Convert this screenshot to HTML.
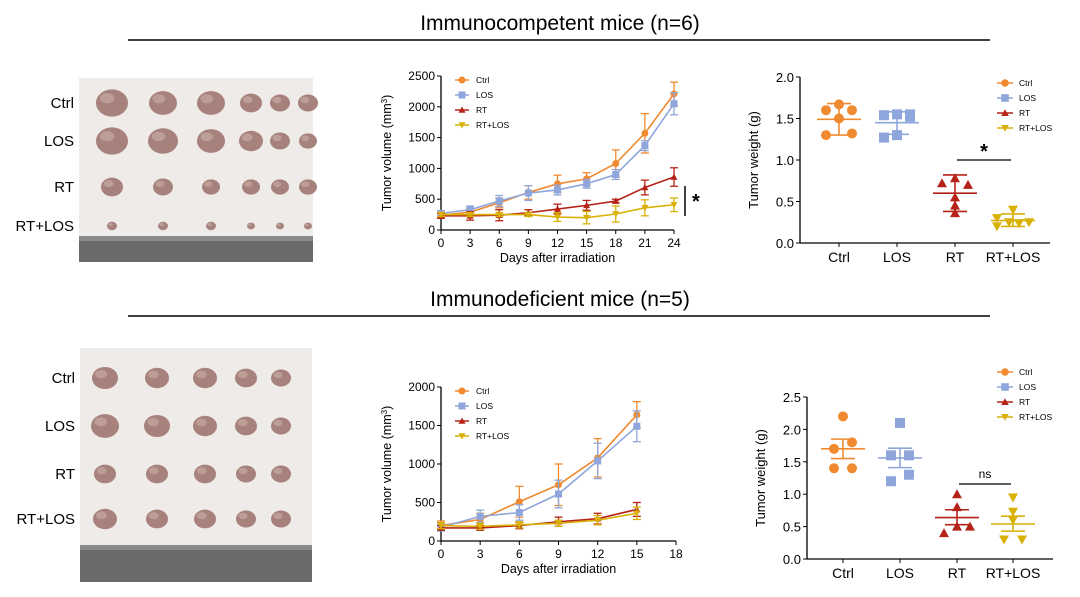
<!DOCTYPE html><html><head><style>body{margin:0;background:#fff}svg{display:block;font-family:"Liberation Sans",sans-serif}</style></head><body>
<svg id="s" width="1080" height="597" viewBox="0 0 1080 597" xmlns="http://www.w3.org/2000/svg">
<text x="560" y="30" font-size="21" text-anchor="middle">Immunocompetent mice (n=6)</text>
<line x1="128" y1="40" x2="990" y2="40" stroke="#000" stroke-width="1.5"/>
<text x="560" y="306" font-size="21" text-anchor="middle">Immunodeficient mice (n=5)</text>
<line x1="128" y1="316" x2="990" y2="316" stroke="#000" stroke-width="1.5"/>
</svg>
<script>
const S=document.getElementById('s');let h='';
const C={o:'#f08a30',b:'#8fa6dc',r:'#b52318',y:'#d9b106'};
function mk(t,x,y,c,sz){sz=sz||4;
 if(t=='o')return `<circle cx="${x}" cy="${y}" r="${sz}" fill="${c}"/>`;
 if(t=='b')return `<rect x="${x-sz}" y="${y-sz}" width="${2*sz}" height="${2*sz}" fill="${c}"/>`;
 if(t=='r')return `<polygon points="${x},${y-sz} ${x-sz},${y+sz*0.8} ${x+sz},${y+sz*0.8}" fill="${c}"/>`;
 return `<polygon points="${x},${y+sz} ${x-sz},${y-sz*0.8} ${x+sz},${y-sz*0.8}" fill="${c}"/>`;}
function photo(x,y,w,h2,rowsY,labels,cols,sizes,rulerY){
 h+=`<rect x="${x}" y="${y}" width="${w}" height="${h2}" fill="#eeebe9"/>`;
 rowsY.forEach((ry,i)=>{h+=`<text x="${x-5}" y="${ry+5}" font-size="15" text-anchor="end">${labels[i]}</text>`;
  cols.forEach((cx,j)=>{const r=sizes[i][j];h+=`<ellipse cx="${cx}" cy="${ry}" rx="${r}" ry="${r*0.85}" fill="#a7817c"/><ellipse cx="${cx-r*0.3}" cy="${ry-r*0.3}" rx="${r*0.45}" ry="${r*0.32}" fill="#bc9e97"/>`;});});
 h+=`<rect x="${x}" y="${rulerY}" width="${w}" height="${y+h2-rulerY}" fill="#6a6a6a"/><rect x="${x}" y="${rulerY}" width="${w}" height="5" fill="#8a8a8a"/>`;
}
photo(79,78,234,184,[103,141,187,226],['Ctrl','LOS','RT','RT+LOS'],[112,163,211,251,280,308],[[16,14,14,11,10,10],[16,15,14,12,10,9],[11,10,9,9,9,9],[5,5,5,4,4,4]],236);
photo(80,348,232,234,[378,426,474,519],['Ctrl','LOS','RT','RT+LOS'],[105,157,205,246,281],[[13,12,12,11,10],[14,13,12,11,10],[11,11,11,10,10],[12,11,11,10,10]],545);
function line(x0,x1,xmax,xstep,y0,y1,ymax,ystep,data,leg,star){
 const X=v=>x0+(x1-x0)*v/xmax,Y=v=>y0-(y0-y1)*v/ymax;
 h+=`<line x1="${x0}" y1="${y1}" x2="${x0}" y2="${y0}" stroke="#000" stroke-width="1.3"/><line x1="${x0}" y1="${y0}" x2="${x1}" y2="${y0}" stroke="#000" stroke-width="1.3"/>`;
 for(let v=0;v<=ymax;v+=ystep){h+=`<line x1="${x0-4}" y1="${Y(v)}" x2="${x0}" y2="${Y(v)}" stroke="#000"/><text x="${x0-6}" y="${Y(v)+4}" font-size="12" text-anchor="end">${v}</text>`;}
 for(let v=0;v<=xmax;v+=xstep){h+=`<line x1="${X(v)}" y1="${y0}" x2="${X(v)}" y2="${y0+4}" stroke="#000"/><text x="${X(v)}" y="${y0+17}" font-size="12" text-anchor="middle">${v}</text>`;}
 h+=`<text x="${(x0+x1)/2}" y="${y0+32}" font-size="12.5" text-anchor="middle">Days after irradiation</text>`;
 h+=`<text transform="translate(${x0-50},${(y0+y1)/2}) rotate(-90)" font-size="12.5" text-anchor="middle">Tumor volume (mm<tspan dy="-4" font-size="8">3</tspan><tspan dy="4">)</tspan></text>`;
 data.forEach(d=>{const c=C[d.t];let p=d.v.map((v,i)=>`${X(i*3)},${Y(v)}`).join(' ');
  h+=`<polyline points="${p}" fill="none" stroke="${c}" stroke-width="1.6"/>`;
  d.v.forEach((v,i)=>{const e=d.e[i],x=X(i*3);h+=`<line x1="${x}" y1="${Y(v+e)}" x2="${x}" y2="${Y(v-e)}" stroke="${c}" stroke-width="1.3"/><line x1="${x-4}" y1="${Y(v+e)}" x2="${x+4}" y2="${Y(v+e)}" stroke="${c}" stroke-width="1.3"/><line x1="${x-4}" y1="${Y(v-e)}" x2="${x+4}" y2="${Y(v-e)}" stroke="${c}" stroke-width="1.3"/>`+mk(d.t,x,Y(v),c,3.5);});});
 ['Ctrl','LOS','RT','RT+LOS'].forEach((n,i)=>{const t='obry'[i],c=C[t],yy=leg[1]+i*15;h+=`<line x1="${leg[0]-7}" y1="${yy}" x2="${leg[0]+7}" y2="${yy}" stroke="${c}" stroke-width="1.5"/>`+mk(t,leg[0],yy,c,3.5)+`<text x="${leg[0]+14}" y="${yy+3}" font-size="8.5">${n}</text>`;});
 if(star){h+=`<line x1="685" y1="186" x2="685" y2="216" stroke="#000" stroke-width="1.5"/><text x="692" y="208" font-size="20" font-weight="bold">*</text>`;}
}
line(441,674,24,3,230,76,2500,500,[
 {t:'o',v:[240,290,440,610,750,830,1080,1570,2210],e:[40,60,80,110,140,100,220,320,190]},
 {t:'b',v:[270,330,470,600,650,750,900,1370,2050],e:[40,60,90,120,80,70,80,80,180]},
 {t:'r',v:[230,230,240,280,340,400,470,690,860],e:[40,70,90,50,80,80,30,120,150]},
 {t:'y',v:[250,250,250,250,210,200,260,360,410],e:[30,30,30,30,70,100,130,130,110]}],[462,80],true);
line(441,676,18,3,541,387,2000,500,[
 {t:'o',v:[200,280,510,730,1080,1640],e:[60,80,200,270,250,170]},
 {t:'b',v:[180,320,370,610,1040,1490],e:[50,80,100,180,230,200]},
 {t:'r',v:[170,170,200,250,290,410],e:[30,30,40,60,70,90]},
 {t:'y',v:[200,190,210,230,270,360],e:[40,40,40,40,60,80]}],[462,391],false);
function sc(x0,x1,y0,y1,ymax,cats,pts,means,leg,legStart,sig){
 const Y=v=>y0-(y0-y1)*v/ymax;
 h+=`<line x1="${x0}" y1="${y1}" x2="${x0}" y2="${y0}" stroke="#000" stroke-width="1.3"/><line x1="${x0}" y1="${y0}" x2="${x1}" y2="${y0}" stroke="#000" stroke-width="1.3"/>`;
 for(let v=0;v<=ymax+1e-6;v+=0.5){h+=`<line x1="${x0-4}" y1="${Y(v)}" x2="${x0}" y2="${Y(v)}" stroke="#000"/><text x="${x0-6}" y="${Y(v)+5}" font-size="13" text-anchor="end">${v.toFixed(1)}</text>`;}
 h+=`<text transform="translate(${x0-42},${(y0+y1)/2}) rotate(-90)" font-size="13" text-anchor="middle">Tumor weight (g)</text>`;
 ['Ctrl','LOS','RT','RT+LOS'].forEach((n,i)=>{const t='obry'[i],c=C[t],cx=cats[i];
  h+=`<line x1="${cx}" y1="${y0}" x2="${cx}" y2="${y0+4}" stroke="#000"/><text x="${cx}" y="${y0+19}" font-size="14" text-anchor="middle">${n}</text>`;
  pts[i].forEach(p=>h+=mk(t,cx+p[0],Y(p[1]),c,5));
  const [m,lo,hi]=means[i];
  h+=`<line x1="${cx-22}" y1="${Y(m)}" x2="${cx+22}" y2="${Y(m)}" stroke="${c}" stroke-width="1.6"/><line x1="${cx}" y1="${Y(hi)}" x2="${cx}" y2="${Y(lo)}" stroke="${c}" stroke-width="1.6"/><line x1="${cx-12}" y1="${Y(hi)}" x2="${cx+12}" y2="${Y(hi)}" stroke="${c}" stroke-width="1.6"/><line x1="${cx-12}" y1="${Y(lo)}" x2="${cx+12}" y2="${Y(lo)}" stroke="${c}" stroke-width="1.6"/>`;
  if(i>=legStart){const yy=leg[1]+(i-legStart)*15;h+=`<line x1="${leg[0]-8}" y1="${yy}" x2="${leg[0]+8}" y2="${yy}" stroke="${c}" stroke-width="1.5"/>`+mk(t,leg[0],yy,c,3.8)+`<text x="${leg[0]+14}" y="${yy+3}" font-size="8.5">${n}</text>`;}
 });
 h+=`<line x1="${cats[2]+2}" y1="${sig[0]}" x2="${cats[3]-2}" y2="${sig[0]}" stroke="#000" stroke-width="1.3"/>`;
 h+=sig[1]=='*'?`<text x="${(cats[2]+cats[3])/2}" y="${sig[0]-2}" font-size="20" font-weight="bold" text-anchor="middle">*</text>`:`<text x="${(cats[2]+cats[3])/2}" y="${sig[0]-6}" font-size="12" text-anchor="middle">ns</text>`;
}
sc(800,1050,243,77,2,[839,897,955,1013],
 [[[0,1.67],[-13,1.6],[13,1.6],[0,1.5],[-13,1.3],[13,1.32]],[[-13,1.54],[0,1.55],[13,1.55],[13,1.52],[0,1.3],[-13,1.27]],[[-13,0.72],[13,0.7],[0,0.55],[0,0.45],[0,0.36],[0,0.78]],[[-16,0.3],[0,0.4],[-16,0.2],[-4,0.25],[6,0.24],[16,0.25]]],
 [[1.49,1.3,1.68],[1.45,1.31,1.58],[0.6,0.38,0.82],[0.27,0.2,0.35]],[1005,83],0,[160,'*']);
sc(807,1053,559,397,2.5,[843,900,957,1013],
 [[[0,2.2],[-9,1.7],[9,1.8],[-9,1.4],[9,1.4]],[[0,2.1],[-9,1.6],[9,1.6],[9,1.3],[-9,1.2]],[[0,1.0],[0,0.8],[-13,0.4],[13,0.5],[0,0.5]],[[0,0.95],[0,0.73],[0,0.6],[-9,0.3],[9,0.3]]],
 [[1.7,1.55,1.85],[1.56,1.41,1.71],[0.64,0.53,0.76],[0.54,0.43,0.66]],[1005,372],0,[484,'ns']);
S.insertAdjacentHTML('beforeend',h);
</script></body></html>
